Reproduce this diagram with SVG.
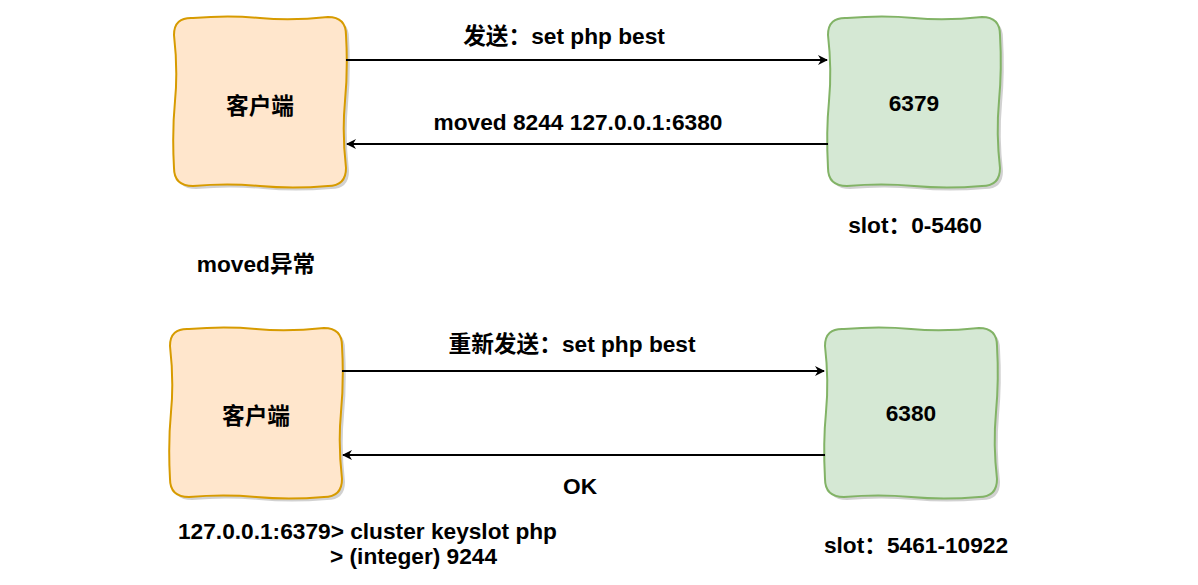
<svg xmlns="http://www.w3.org/2000/svg" width="1198" height="585" viewBox="0 0 1198 585">
<style>
.t{font-family:"Liberation Sans","Noto Sans CJK SC",Arial,sans-serif;font-weight:bold;font-size:22.7px;fill:#000}
.c{text-anchor:middle}
.client{fill:#ffe6cc;stroke:#d79b00;stroke-width:2}
.server{fill:#d5e8d4;stroke:#82b366;stroke-width:2}
.shadow{fill:#000;opacity:0.18}
.conn{stroke:#000;stroke-width:2;fill:none}
</style>
<defs>
<marker id="arr" viewBox="0 0 10 10" refX="9" refY="5" markerWidth="12" markerHeight="10" orient="auto" markerUnits="userSpaceOnUse">
<path d="M0,0 L10,5 L0,10 L3,5 Z" fill="#000"/>
</marker>
<path id="box" d="M19,1 Q55,-2 86,1 T154,0 Q172,0 172,18 Q174,52 171,84 T172,151 Q172,169 154,169 Q118,172 86,169 T19,169 Q0,169 0,151 Q-2,115 1,84 T0,18 Q0,0 19,1 Z"/>
</defs>
<g id="client1">
<use href="#box" x="177" y="20" class="shadow"/>
<use href="#box" x="174" y="17" class="client"/>
<text x="260" y="114" class="t c">客户端</text>
</g>
<g id="server6379">
<use href="#box" x="831" y="20" class="shadow"/>
<use href="#box" x="828" y="17" class="server"/>
<text x="914" y="111" class="t c">6379</text>
</g>
<g id="client2">
<use href="#box" x="173" y="331" class="shadow"/>
<use href="#box" x="170" y="328" class="client"/>
<text x="256" y="424" class="t c">客户端</text>
</g>
<g id="server6380">
<use href="#box" x="828" y="331" class="shadow"/>
<use href="#box" x="825" y="328" class="server"/>
<text x="911" y="421" class="t c">6380</text>
</g>
<g id="connectors">
<line x1="346" y1="60" x2="827" y2="60" class="conn" marker-end="url(#arr)"/>
<line x1="828" y1="144" x2="347" y2="144" class="conn" marker-end="url(#arr)"/>
<line x1="342" y1="371" x2="824" y2="371" class="conn" marker-end="url(#arr)"/>
<line x1="825" y1="455" x2="343" y2="455" class="conn" marker-end="url(#arr)"/>
</g>
<g id="labels">
<text x="564" y="44" class="t c">发送：set php best</text>
<text x="578" y="130" class="t c">moved 8244 127.0.0.1:6380</text>
<text x="915" y="233" class="t c">slot：0-5460</text>
<text x="256" y="272" class="t c">moved异常</text>
<text x="572" y="352" class="t c">重新发送：set php best</text>
<text x="580" y="494" class="t c">OK</text>
<text x="178" y="539" class="t">127.0.0.1:6379&gt; cluster keyslot php</text>
<text x="330" y="564" class="t">&gt; (integer) 9244</text>
<text x="916" y="553" class="t c">slot：5461-10922</text>
</g>
</svg>
